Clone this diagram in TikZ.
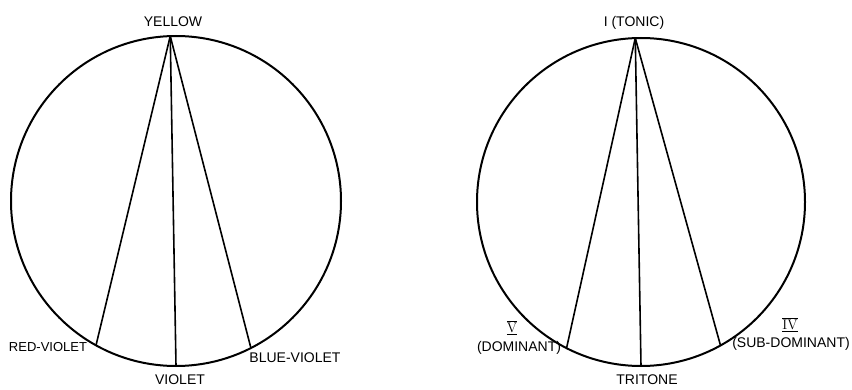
\documentclass[tikz,border=0pt]{standalone}
\usepackage{fontspec}
\setmainfont{Liberation Sans}
\newfontfamily\romanfont{Latin Modern Roman}
\begin{document}
\begin{tikzpicture}[x=1pt,y=1pt,
  ring/.style={circle, draw, line width=2pt, minimum size=330pt, inner sep=0pt, outer sep=0pt},
  chord/.style={line width=1.6pt},
  lab/.style={inner sep=0pt, font=\fontsize{14}{16}\selectfont}]
\useasboundingbox (0,0) rectangle (852,389);
% left circle
\node[ring] (L) at (176,188) {};
\coordinate (ly) at (L.92);
\coordinate (lrv) at (L.241);
\coordinate (lv) at (L.270.7);
\coordinate (lbv) at (L.297.8);
\draw[chord] (ly) -- (lrv);
\draw[chord] (ly) -- (lv);
\draw[chord] (ly) -- (lbv);
\node[lab] (tYellow) at (173,367) {YELLOW};
\node[lab] (tRV) at (48,42) {\fontsize{13}{15}\selectfont RED-VIOLET};
\node[lab] (tV) at (180,9) {VIOLET};
\node[lab] (tBV) at (295,31) {BLUE-VIOLET};
% right circle
\node[ring, minimum size=328pt] (R) at (641,187) {};
\coordinate (ri) at (R.92.8);
\coordinate (rd) at (R.243);
\coordinate (rt) at (R.270.7);
\coordinate (rs) at (R.299.5);
\draw[chord] (ri) -- (rd);
\draw[chord] (ri) -- (rt);
\draw[chord] (ri) -- (rs);
\node[lab] (tTonic) at (634,366) {I (TONIC)};
\node[lab] (tVnum) at (512,61) {\romanfont$\overline{\underline{\mbox{V}}}$};
\node[lab] (tDom) at (519,41) {(DOMINANT)};
\node[lab] (tIVnum) at (790,64) {\romanfont$\overline{\underline{\mbox{IV}}}$};
\node[lab] (tSub) at (791,45) {(SUB-DOMINANT)};
\node[lab] (tTri) at (647,9) {TRITONE};
\end{tikzpicture}
\end{document}
